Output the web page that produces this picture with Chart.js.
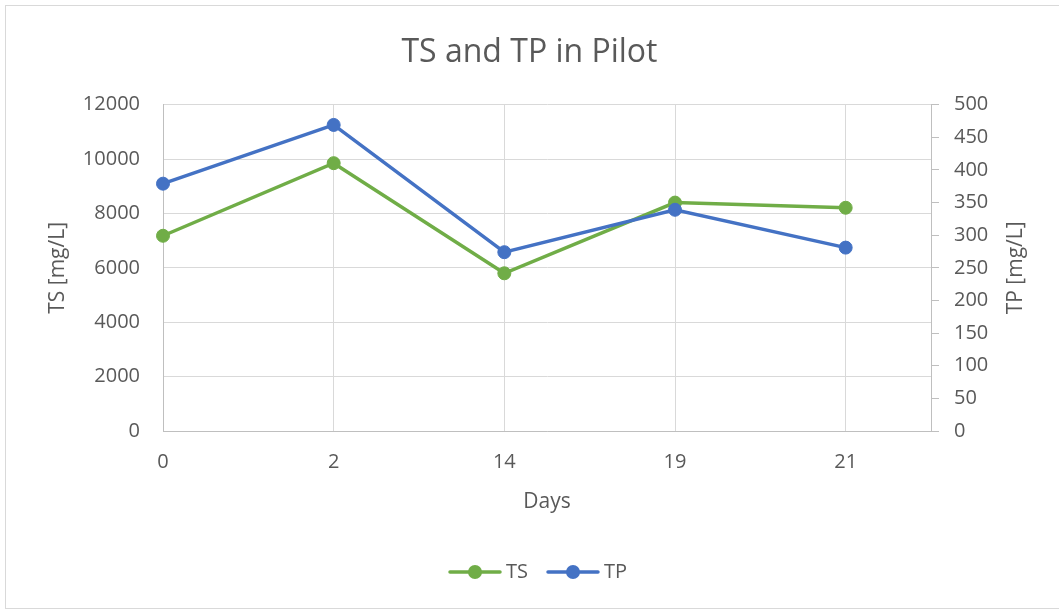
<!DOCTYPE html>
<html><head><meta charset="utf-8">
<script src="https://cdn.jsdelivr.net/npm/chart.js@4"></script>
<style>
html,body{margin:0;padding:0;background:#fff;}
#wrap{position:relative;width:1059px;height:610px;overflow:hidden;}
#frame{position:absolute;left:5px;top:5px;width:1070px;height:604px;border:1px solid #d9d9d9;box-sizing:border-box;pointer-events:none;}
canvas{position:absolute;left:0;top:0;}
</style></head><body>
<div id="wrap"><canvas id="c" width="1059" height="610"></canvas><div id="frame"></div></div>
<script>
// ---- data ----
const categories = ['0', '2', '14', '19', '21'];
const tsValues = [7180, 9850, 5800, 8400, 8210];
const tpValues = [379, 469, 274, 339, 281];
const leftTicks = [0, 2000, 4000, 6000, 8000, 10000, 12000];
const rightTicks = [0, 50, 100, 150, 200, 250, 300, 350, 400, 450, 500];
const seriesNames = ['TS', 'TP'];
const seriesColors = ['#70ad47', '#4472c4'];
const rightTitle = 'TP [mg/L]';

const FONT = "'Open Sans', 'Liberation Sans', sans-serif";
const TXT = '#595959';

function legendSymbol(color) {
  const c = document.createElement('canvas');
  c.width = 54; c.height = 16;
  const g = c.getContext('2d');
  g.strokeStyle = color; g.lineWidth = 3.5; g.lineCap = 'round';
  g.beginPath(); g.moveTo(2, 8); g.lineTo(52, 8); g.stroke();
  g.fillStyle = color;
  g.beginPath(); g.arc(27, 8, 7, 0, Math.PI * 2); g.fill();
  return c;
}
const symbols = seriesColors.map(legendSymbol);

const extras = {
  id: 'extras',
  afterLayout(chart) {
    const L = chart.legend; const dx = 11;
    L.left += dx; L.right += dx;
  },
  afterDraw(chart) {
    const s = chart.scales.y1; const ctx = chart.ctx;
    ctx.save();
    ctx.translate(1016, (s.top + s.bottom) / 2);
    ctx.rotate(-Math.PI / 2);
    ctx.font = '21px ' + FONT;
    ctx.fillStyle = TXT; ctx.textAlign = 'center'; ctx.textBaseline = 'middle';
    ctx.fillText(rightTitle, 0, 0);
    ctx.restore();
  }
};

new Chart(document.getElementById('c'), {
  type: 'line',
  data: {
    datasets: [
      { label: seriesNames[0], data: tsValues.map((v, i) => ({ x: i, y: v })), yAxisID: 'y',
        borderColor: seriesColors[0], backgroundColor: seriesColors[0], borderWidth: 3.5,
        pointRadius: 6.5, pointBorderWidth: 1, pointHoverRadius: 6.5, tension: 0, order: 2, clip: false },
      { label: seriesNames[1], data: tpValues.map((v, i) => ({ x: i, y: v })), yAxisID: 'y1',
        borderColor: seriesColors[1], backgroundColor: seriesColors[1], borderWidth: 3.5,
        pointRadius: 6.5, pointBorderWidth: 1, pointHoverRadius: 6.5, tension: 0, order: 1, clip: false }
    ]
  },
  options: {
    responsive: false, animation: false, devicePixelRatio: 1,
    layout: { padding: { left: 0, right: 0, top: 0, bottom: 18 } },
    plugins: {
      title: { display: true, text: 'TS and TP in Pilot', color: TXT,
        font: { family: FONT, size: 32, weight: 'normal' }, padding: { top: 34, bottom: 32.3 } },
      legend: { position: 'bottom',
        labels: { usePointStyle: true, pointStyleWidth: 42, color: TXT, padding: 24,
          font: { family: FONT, size: 20 },
          sort: (a, b) => a.datasetIndex - b.datasetIndex,
          generateLabels(chart) {
            const items = Chart.defaults.plugins.legend.labels.generateLabels(chart);
            items.forEach(it => { it.pointStyle = symbols[it.datasetIndex]; it.lineWidth = 0; });
            return items;
          } } },
      tooltip: { enabled: false }
    },
    scales: {
      x: { type: 'linear', min: 0, max: categories.length - 0.5,
        afterBuildTicks(s) { s.ticks = categories.map((c, i) => ({ value: i })); },
        afterFit(s) { s.height = 107; },
        ticks: { autoSkip: false, maxRotation: 0, color: TXT, padding: 19,
          font: { family: FONT, size: 20 }, callback: v => categories[v] },
        grid: { color: '#d9d9d9', drawTicks: false, lineWidth: 1 },
        border: { color: '#bfbfbf', width: 1 },
        title: { display: true, text: 'Days', color: TXT, font: { family: FONT, size: 21 },
          padding: { top: 0, bottom: 23.4 } } },
      y: { position: 'left', min: leftTicks[0], max: leftTicks[leftTicks.length - 1],
        afterBuildTicks(s) { s.ticks = leftTicks.map(v => ({ value: v })); },
        afterFit(s) { s.width = 163; },
        ticks: { color: TXT, padding: 23, font: { family: FONT, size: 20 }, callback: v => String(v) },
        grid: { color: '#d9d9d9', drawTicks: false },
        border: { color: '#bfbfbf', width: 1 },
        title: { display: true, text: 'TS [mg/L]', color: TXT, font: { family: FONT, size: 21 },
          padding: { top: 45.4, bottom: 0 } } },
      y1: { position: 'right', min: rightTicks[0], max: rightTicks[rightTicks.length - 1],
        afterBuildTicks(s) { s.ticks = rightTicks.map(v => ({ value: v })); },
        afterFit(s) { s.width = 128; },
        ticks: { color: TXT, padding: 15, font: { family: FONT, size: 20 }, callback: v => String(v) },
        grid: { drawOnChartArea: false, tickLength: 8, tickColor: '#bfbfbf', color: '#bfbfbf' },
        border: { color: '#bfbfbf', width: 1 },
        title: { display: false } }
    }
  },
  plugins: [extras]
});
</script>
</body></html>
